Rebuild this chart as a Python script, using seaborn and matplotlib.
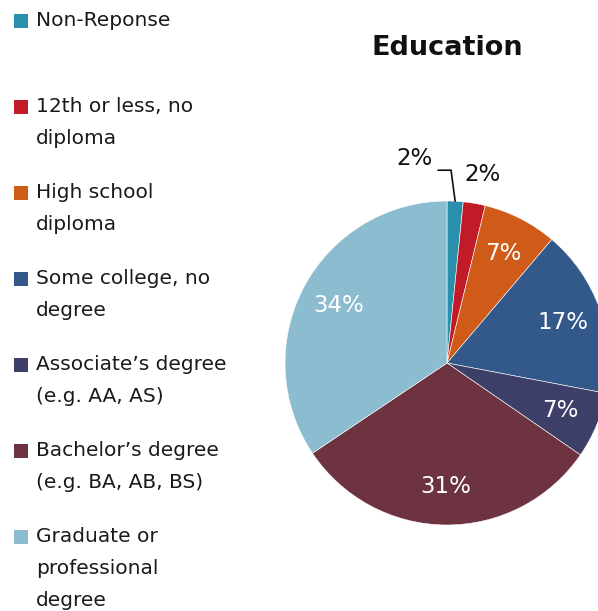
import numpy as np
import matplotlib
matplotlib.use("Agg")
import matplotlib.pyplot as plt
from matplotlib.patches import Rectangle
import seaborn as sns

# Education breakdown (percent of respondents)
categories = [
    "Non-Reponse",
    "12th or less, no\ndiploma",
    "High school\ndiploma",
    "Some college, no\ndegree",
    "Associate\u2019s degree\n(e.g. AA, AS)",
    "Bachelor\u2019s degree\n(e.g. BA, AB, BS)",
    "Graduate or\nprofessional\ndegree",
]
shares = [1.6, 2.2, 7.4, 16.8, 6.6, 31.0, 34.4]
colors = ["#2a8fab", "#c11b27", "#d05a18", "#33598a", "#3d3f69", "#6e3340", "#8bbcd0"]
title = "Education"

sns.set_theme(style="white")
plt.rcParams["font.family"] = ["DejaVu Sans"]
palette = sns.color_palette(colors)

W, H = 598, 611
fig = plt.figure(figsize=(W / 100, H / 100), dpi=100)
ax = fig.add_axes([0, 0, 1, 1])

# pie centre / radius in pixels
cx, cy, R = 447, 363, 162

wedges, texts, autotexts = ax.pie(
    shares, colors=palette, startangle=90, counterclock=False,
    radius=1.0, autopct="%.0f%%", pctdistance=0.76,
    wedgeprops=dict(edgecolor="white", linewidth=0.4),
    textprops=dict(color="white", fontsize=16.5),
)
ax.set_axis_off()
ax.set_xlim(-cx / R, (W - cx) / R)
ax.set_ylim(-(H - cy) / R, cy / R)
ax.set_aspect("equal")

# small slices get their labels outside
total = sum(shares)
cum = np.cumsum([0] + shares[:-1])
mids = [(c + s / 2) / total * 2 * np.pi for c, s in zip(cum, shares)]

# second slice: label just above the wedge
a1 = mids[1]
autotexts[1].set_position((1.18 * np.sin(a1) + 0.02, 1.18 * np.cos(a1)))
autotexts[1].set_color("#111111")

# first slice: label to the left with a leader line
a0 = mids[0]
tip = (np.sin(a0), np.cos(a0))
elbow = (0.025, 1.19)
lx = -0.2
autotexts[0].set_position((lx, 1.26))
autotexts[0].set_color("#111111")
ax.plot([lx + 0.145, elbow[0], tip[0]], [elbow[1], elbow[1], tip[1]],
        color="#111111", lw=1.2, solid_joinstyle="miter")

fig.text(cx / W, 1 - 48 / H, title, ha="center", va="center",
         fontsize=19.5, fontweight="bold", color="#111111")

# legend, one entry every 86 px
line_h = 31.5
for i, (lab, col) in enumerate(zip(categories, palette)):
    y0 = 21 + i * 86
    fig.patches.append(Rectangle((14 / W, 1 - (y0 + 7) / H), 14 / W, 14 / H,
                                 transform=fig.transFigure, facecolor=col,
                                 edgecolor="none"))
    for j, line in enumerate(lab.split("\n")):
        fig.text(36 / W, 1 - (y0 + j * line_h) / H, line, ha="left",
                 va="center", fontsize=14.5, color="#1a1a1a")

fig.savefig("out.png", dpi=100)
